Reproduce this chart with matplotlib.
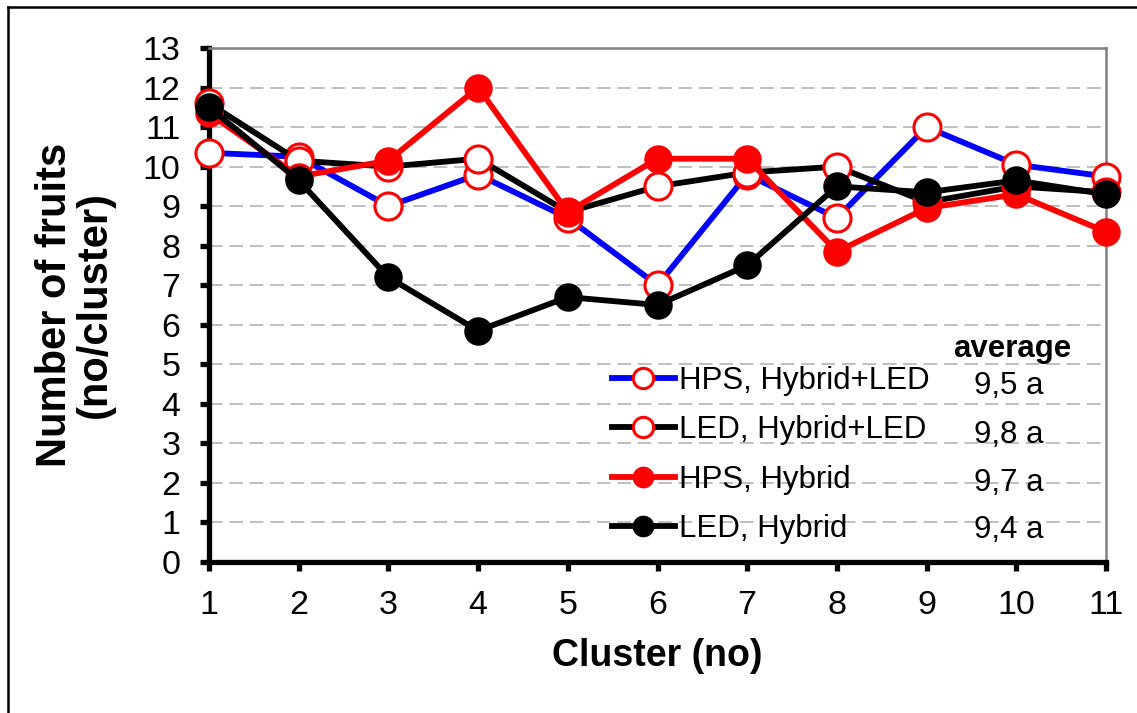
import matplotlib
matplotlib.use("Agg")
import matplotlib.pyplot as plt
from matplotlib.lines import Line2D

plt.rcParams['font.family'] = ['Liberation Sans', 'DejaVu Sans']

# Data
clusters = [1, 2, 3, 4, 5, 6, 7, 8, 9, 10, 11]
hps_hybrid_led = [10.35, 10.25, 9.0, 9.8, 8.7, 7.0, 9.8, 8.7, 11.0, 10.05, 9.75]
led_hybrid_led = [11.6, 10.15, 10.0, 10.2, 8.85, 9.5, 9.85, 10.0, 9.1, 9.5, 9.35]
hps_hybrid = [11.35, 9.75, 10.15, 12.0, 8.85, 10.2, 10.2, 7.85, 8.95, 9.3, 8.35]
led_hybrid = [11.5, 9.65, 7.2, 5.85, 6.7, 6.5, 7.5, 9.5, 9.35, 9.65, 9.3]

labels = ["HPS, Hybrid+LED", "LED, Hybrid+LED", "HPS, Hybrid", "LED, Hybrid"]
averages = ["9,5 a", "9,8 a", "9,7 a", "9,4 a"]

W, H = 1137, 713
fig = plt.figure(figsize=(W / 100, H / 100), dpi=100)
ax = fig.add_axes([209 / W, 1 - 562 / H, (1106 - 209) / W, (562 - 48) / H])

lw = 4.2
ms = 19.5
open_style = dict(marker='o', markersize=ms, markerfacecolor='white',
                  markeredgecolor='red', markeredgewidth=2.2, clip_on=False)
fill_style = dict(marker='o', markersize=ms, clip_on=False)

l1, = ax.plot(clusters, hps_hybrid_led, color='blue', lw=lw, zorder=3, **open_style)
l2, = ax.plot(clusters, led_hybrid_led, color='black', lw=lw, zorder=4, **open_style)
l3, = ax.plot(clusters, hps_hybrid, color='red', lw=lw, zorder=5,
              markerfacecolor='red', markeredgecolor='red', **fill_style)
l4, = ax.plot(clusters, led_hybrid, color='black', lw=lw, zorder=6,
              markerfacecolor='black', markeredgecolor='black', **fill_style)

ax.set_xlim(1, 11)
ax.set_ylim(0, 13)
ax.set_xticks(clusters)
ax.set_yticks(range(0, 14))
ax.tick_params(axis='both', direction='out', length=6.5, width=3.8,
               labelsize=24.5, color='black')
ax.tick_params(axis='x', pad=14)
ax.tick_params(axis='y', pad=14)

for y in range(1, 13):
    ax.axhline(y, color='#bfbfbf', lw=1.4, ls=(0, (7, 3.5)), zorder=1)

for s in ['left', 'bottom']:
    ax.spines[s].set_linewidth(3.8)
    ax.spines[s].set_color('black')
for s in ['top', 'right']:
    ax.spines[s].set_linewidth(1.8)
    ax.spines[s].set_color('#808080')

ax.set_xlabel("Cluster (no)", fontsize=27, fontweight='bold', labelpad=12)
ax.set_ylabel("Number of fruits\n(no/cluster)", fontsize=30, fontweight='bold',
              linespacing=1.0, labelpad=20)

leg = ax.legend([l1, l2, l3, l4], labels, loc='upper left',
                bbox_to_anchor=(612 / W, 1 - 366 / H),
                bbox_transform=fig.transFigure, frameon=False,
                fontsize=22.5, handlelength=2.0, handletextpad=0.15,
                labelspacing=0.62, borderpad=0, borderaxespad=0,
                markerscale=0.75)

# average column
ax.text(9.95, 5.38, "average", fontsize=22.5, fontweight='bold',
        ha='center', va='center')
row_y = [4.45, 3.21, 1.99, 0.81]
for yy, a in zip(row_y, averages):
    ax.text(9.53, yy, a, fontsize=22.5, ha='left', va='center')

# outer border (top and left edges visible)
fig.add_artist(Line2D([8 / W, 8 / W], [0, 1 - 7 / H], color='black', lw=1.8,
                      transform=fig.transFigure))
fig.add_artist(Line2D([8 / W, 1], [1 - 7 / H, 1 - 7 / H], color='black', lw=1.8,
                      transform=fig.transFigure))

fig.savefig("out.png", dpi=100)
